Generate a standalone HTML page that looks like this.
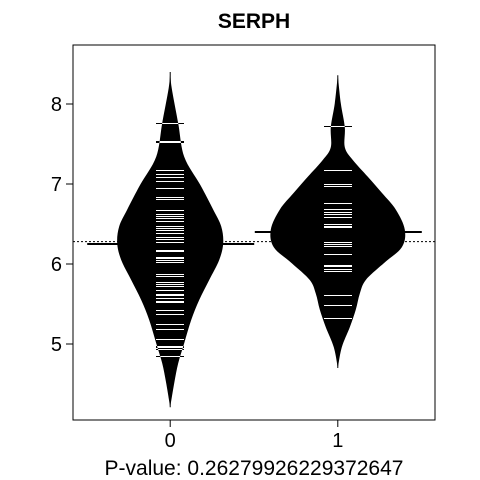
<!DOCTYPE html>
<html><head><meta charset="utf-8"><style>
html,body{margin:0;padding:0;background:#fff;}
svg{display:block;font-family:"Liberation Sans",Arial,sans-serif;}
</style></head><body>
<svg id="chart" width="480" height="480" viewBox="0 0 480 480" xmlns="http://www.w3.org/2000/svg">
<defs id="defs"></defs>
<text x="254" y="28" text-anchor="middle" font-size="21" font-weight="bold">SERPH</text>
<text x="254" y="475" text-anchor="middle" font-size="21">P-value: 0.26279926229372647</text>
<g id="plot"></g>
<rect x="73" y="45" width="362" height="375" fill="none" stroke="#000" stroke-width="1"/>
</svg>
<script>
const categories = ["0", "1"];
const yTicks = [5, 6, 7, 8];
const overallMean = 6.28;
const groupMeans = [6.25, 6.40];
const densVals0 = [8.40, 8.20, 7.76, 7.34, 6.99, 6.68, 6.47, 6.26, 6.05, 5.80, 5.55, 5.30, 5.01, 4.76, 4.51, 4.21];
const densW0    = [0,    1.5,  8,    14,   30,   43,   51,   53,   49,   39,   29,   21,   14,   8,    4,    0];
const densVals1 = [8.36, 8.01, 7.71, 7.46, 7.30, 7.09, 6.89, 6.68, 6.43, 6.21, 6.01, 5.80, 5.63, 5.43, 5.21, 4.96, 4.70];
const densW1    = [0,    3,    7,    7,    15,   30,   44,   58,   67,   64,   46,   28,   22,   18,   12,   4,    0];
const points0 = [7.76,7.54,7.52,7.18,7.13,7.09,7.04,6.95,6.84,6.81,6.67,6.63,6.60,6.57,6.54,6.48,6.45,6.43,6.39,6.34,6.31,6.28,6.18,6.16,6.09,6.07,6.05,6.03,5.88,5.85,5.78,5.75,5.72,5.67,5.63,5.61,5.57,5.54,5.52,5.43,5.38,5.25,5.19,5.06,4.98,4.96,4.94,4.85];
const points1 = [7.73,7.18,7.00,6.97,6.76,6.69,6.65,6.63,6.59,6.50,6.48,6.46,6.27,6.25,6.23,6.13,5.99,5.97,5.94,5.91,5.61,5.49,5.33];

const NS = "http://www.w3.org/2000/svg";
const X0 = 73, X1 = 435, Y0 = 45, Y1 = 420;
function xScale(i){ const lo = 0.42, hi = 2.58; return X0 + ((i + 1) - lo) / (hi - lo) * (X1 - X0); }
function yScale(v){ return 264 - (v - 6) * 80; }
const plot = document.getElementById("plot");
const defs = document.getElementById("defs");
function mk(tag, attrs, parent){ const e = document.createElementNS(NS, tag); for (const k in attrs) e.setAttribute(k, attrs[k]); (parent || plot).appendChild(e); return e; }

function smoothSide(p){
  let d = "";
  for (let k = 0; k < p.length - 1; k++) {
    const a = p[Math.max(k - 1, 0)], b = p[k], c = p[k + 1], e = p[Math.min(k + 2, p.length - 1)];
    const c1 = [b[0] + (c[0] - a[0]) / 6, b[1] + (c[1] - a[1]) / 6];
    const c2 = [c[0] - (e[0] - b[0]) / 6, c[1] - (e[1] - b[1]) / 6];
    d += " C" + c1[0] + "," + c1[1] + " " + c2[0] + "," + c2[1] + " " + c[0] + "," + c[1];
  }
  return d;
}

yTicks.forEach(t => {
  const y = yScale(t);
  const tk = mk("line", {x1: X0, x2: X0 - 7, y1: y, y2: y, stroke: "#000"});
  
  
  const lb = mk("text", {x: X0 - 11, y: y + 7, "text-anchor": "end", "font-size": "20"});
  lb.textContent = t;
  
  
});
categories.forEach((c, i) => {
  const x = xScale(i);
  const tk = mk("line", {x1: x, x2: x, y1: Y1, y2: Y1 + 7, stroke: "#000"});
  
  
  const lb = mk("text", {x: x, y: Y1 + 27, "text-anchor": "middle", "font-size": "20"});
  lb.textContent = c;
  
  
});

const om = mk("line", {x1: X0, x2: X1, y1: yScale(overallMean), y2: yScale(overallMean), stroke: "#000", "stroke-dasharray": "2,2", "stroke-width": "1"});



const dens = [[densVals0, densW0], [densVals1, densW1]];
const pts = [points0, points1];
dens.forEach((d, i) => {
  const cx = xScale(i);
  const vals = d[0], ws = d[1];
  const right = vals.map((v, k) => [cx + ws[k], yScale(v)]);
  const left = vals.map((v, k) => [cx - ws[k], yScale(v)]).reverse();
  const pathD = "M" + right[0][0] + "," + right[0][1] + smoothSide(right) + " L" + left[0][0] + "," + left[0][1] + smoothSide(left) + " Z";
  const cl = mk("line", {x1: cx, x2: cx, y1: yScale(vals[0]), y2: yScale(vals[vals.length - 1]), stroke: "#000", "stroke-width": "1"});
  
  
  const poly = mk("path", {d: pathD, fill: "#000"});
  
  
  const cp = mk("clipPath", {id: "clip" + i}, defs);
  mk("path", {d: pathD}, cp);
  pts[i].forEach(v => {
    const y = Math.round(yScale(v)) + 0.5;
    const bl = mk("line", {x1: cx - 14, x2: cx + 14, y1: y, y2: y, stroke: "#000", "stroke-width": "1", "shape-rendering": "crispEdges"});
    
    
    const wl = mk("line", {x1: cx - 14, x2: cx + 14, y1: y, y2: y, stroke: "#fff", "stroke-width": "1", "shape-rendering": "crispEdges", "clip-path": "url(#clip" + i + ")"});
    
    
  });
  const gm = mk("line", {x1: cx - 83, x2: cx + 84, y1: yScale(groupMeans[i]), y2: yScale(groupMeans[i]), stroke: "#000", "stroke-width": "2"});
  
  
});
</script>
</body></html>
